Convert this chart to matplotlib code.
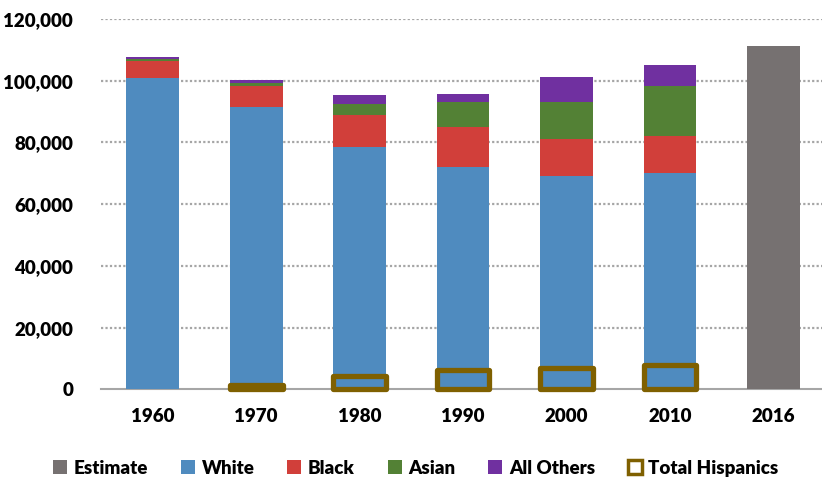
import numpy as np
import matplotlib
matplotlib.use("Agg")
import matplotlib.pyplot as plt
from matplotlib.patches import Patch

years = ["1960", "1970", "1980", "1990", "2000", "2010", "2016"]
white = [100900, 91500, 78600, 72100, 69100, 70100, 0]
black = [5500, 6800, 10300, 12900, 12000, 12000, 0]
asian = [800, 1100, 3500, 8100, 12000, 16200, 0]
others = [600, 800, 3000, 2700, 8100, 6800, 0]
estimate = [0, 0, 0, 0, 0, 0, 111300]
hispanics = [np.nan, 1300, 4300, 6200, 7100, 7900, np.nan]

yticks = [0, 20000, 40000, 60000, 80000, 100000, 120000]

c_white = "#4F8BBF"
c_black = "#D13F3A"
c_asian = "#538135"
c_others = "#7030A0"
c_est = "#767171"
c_hisp = "#7F6000"

FW = 'heavy'
plt.rcParams['font.family'] = ['Lato', 'DejaVu Sans']
plt.rcParams['font.weight'] = FW

fig = plt.figure(figsize=(8.22, 4.83), dpi=100)
ax = fig.add_axes([0.1229, 0.1936, 0.8771, 0.7671])

x = np.arange(len(years))
w = 0.51
wh = np.array(white, float)
bl = np.array(black, float)
asn = np.array(asian, float)
oth = np.array(others, float)

ax.bar(x, estimate, w, color=c_est, zorder=2)
ax.bar(x, wh, w, color=c_white, zorder=2)
ax.bar(x, bl, w, bottom=wh, color=c_black, zorder=2)
ax.bar(x, asn, w, bottom=wh + bl, color=c_asian, zorder=2)
ax.bar(x, oth, w, bottom=wh + bl + asn, color=c_others, zorder=2)

h = np.array(hispanics, float)
m = np.isfinite(h)
ax.bar(x[m], h[m], w, fill=False, edgecolor=c_hisp, linewidth=3.8,
       joinstyle='round', zorder=3, clip_on=False)

ax.set_ylim(0, 120000)
ax.set_xlim(-0.5, 6.47)
ax.set_yticks(yticks)
ax.set_yticklabels([f"{v:,}" for v in yticks])
ax.set_xticks(x)
ax.set_xticklabels(years)
ax.tick_params(axis='both', length=0, labelsize=13.5)
ax.tick_params(axis='y', pad=20)
ax.tick_params(axis='x', pad=13)
for lab in ax.get_xticklabels() + ax.get_yticklabels():
    lab.set_fontweight(FW)

for v in yticks[1:]:
    ax.axhline(v, color="#A6A6A6", linewidth=1.6, linestyle=(0, (1, 1)), zorder=1)
for s in ['top', 'right', 'left']:
    ax.spines[s].set_visible(False)
ax.spines['bottom'].set_color("#A6A6A6")
ax.spines['bottom'].set_linewidth(1.5)
ax.spines['bottom'].set_zorder(1)

handles = [
    Patch(facecolor=c_est, edgecolor='none', label='Estimate'),
    Patch(facecolor=c_white, edgecolor='none', label='White'),
    Patch(facecolor=c_black, edgecolor='none', label='Black'),
    Patch(facecolor=c_asian, edgecolor='none', label='Asian'),
    Patch(facecolor=c_others, edgecolor='none', label='All Others'),
    Patch(facecolor='white', edgecolor=c_hisp, linewidth=2.5, label='Total Hispanics'),
]
leg = fig.legend(handles=handles, loc='center', bbox_to_anchor=(0.506, 0.031),
                 ncol=6, frameon=False, fontsize=13.5, handlelength=0.75,
                 handleheight=0.75, handletextpad=0.35, columnspacing=1.75)
for t in leg.get_texts():
    t.set_fontweight(FW)

fig.savefig("out.png", dpi=100)
